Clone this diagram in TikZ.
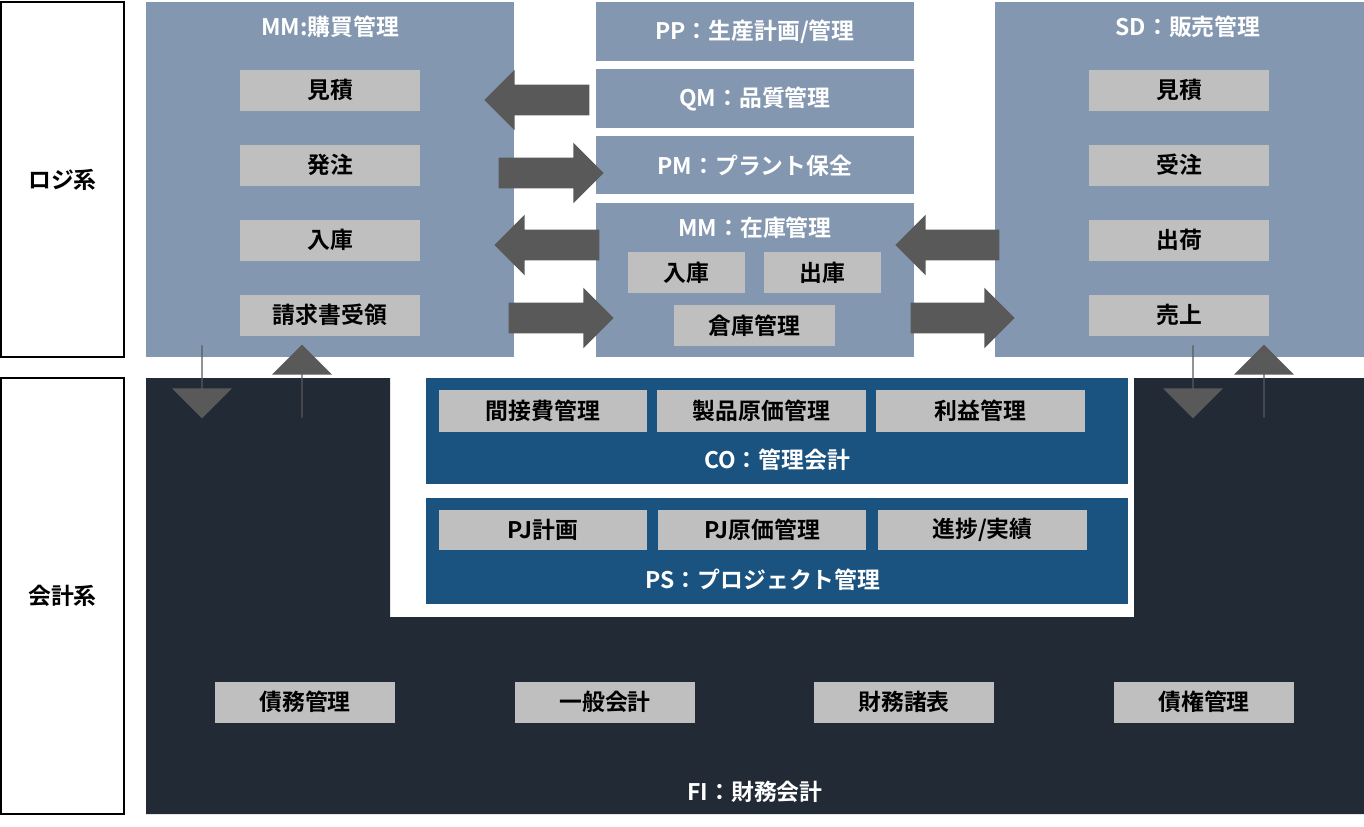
\documentclass[tikz,border=0pt]{standalone}
\usepackage{fontspec}
\setmainfont{Noto Sans CJK JP}[BoldFont={Noto Sans CJK JP Bold}]
\usetikzlibrary{shapes.arrows}
\definecolor{logi}{HTML}{8497B0}
\definecolor{fico}{HTML}{222A35}
\definecolor{sub}{HTML}{1B5380}
\definecolor{item}{HTML}{BFBFBF}
\definecolor{arrowgray}{HTML}{595959}

\tikzset{
  panel/.style={fill=logi, draw=none},
  itembox/.style={fill=item, draw=none, font=\bfseries\fontsize{13}{15}\selectfont},
  title/.style={text=white, font=\bfseries\fontsize{13}{15}\selectfont},
  blk/.style={single arrow, fill=arrowgray, draw=none, inner sep=0pt,
    minimum width=1.2cm, single arrow head extend=0.3cm, text height=0.6cm,
    text depth=0pt, text width=0pt, single arrow tip angle=90, anchor=center}
}

\begin{document}
\begin{tikzpicture}[x=0.02cm, y=-0.02cm]
  \useasboundingbox (0,0) rectangle (1364,826);

  % side labels
  \node[draw, thick, minimum width=2.46cm, minimum height=7.1cm, font=\bfseries\fontsize{13}{15}\selectfont] (logilbl) at (62.5,179.5) {ロジ系};
  \node[draw, thick, minimum width=2.46cm, minimum height=8.72cm, font=\bfseries\fontsize{13}{15}\selectfont] (ficolbl) at (62.5,596) {会計系};

  % FI background
  \fill[fico] (146,378) -- (390,378) -- (390,617) -- (1134,617) -- (1134,378)
    -- (1364,378) -- (1364,814) -- (146,814) -- cycle;
  \node[title] (fi) at (755,792) {FI：財務会計};

  % MM purchasing
  \fill[panel] (146,2) rectangle (514,357);
  \node[title] (mmp) at (330,27) {MM:購買管理};
  \node[itembox, minimum width=3.6cm, minimum height=0.82cm] (mq) at (330,90) {見積};
  \node[itembox, minimum width=3.6cm, minimum height=0.82cm] (mo) at (330,165) {発注};
  \node[itembox, minimum width=3.6cm, minimum height=0.82cm] (mr) at (330,240) {入庫};
  \node[itembox, minimum width=3.6cm, minimum height=0.82cm] (mi) at (330,315) {請求書受領};

  % middle column
  \fill[panel] (596,2) rectangle (914,61);
  \node[title] (pp) at (755,32) {PP：生産計画/管理};
  \fill[panel] (596,69) rectangle (914,128);
  \node[title] (qm) at (755,99) {QM：品質管理};
  \fill[panel] (596,136) rectangle (914,194);
  \node[title] (pm) at (755,166) {PM：プラント保全};
  \fill[panel] (596,203) rectangle (914,357);
  \node[title] (mmi) at (755,228) {MM：在庫管理};
  \node[itembox, minimum width=2.34cm, minimum height=0.82cm] (ii) at (686.5,272.5) {入庫};
  \node[itembox, minimum width=2.34cm, minimum height=0.82cm] (io) at (822.5,272.5) {出庫};
  \node[itembox, minimum width=3.22cm, minimum height=0.82cm] (iw) at (754.5,325.5) {倉庫管理};

  % SD
  \fill[panel] (995,2) rectangle (1364,357);
  \node[title] (sd) at (1188,27) {SD：販売管理};
  \node[itembox, minimum width=3.6cm, minimum height=0.82cm] (sq) at (1179,90) {見積};
  \node[itembox, minimum width=3.6cm, minimum height=0.82cm] (so) at (1179,165) {受注};
  \node[itembox, minimum width=3.6cm, minimum height=0.82cm] (ss) at (1179,240) {出荷};
  \node[itembox, minimum width=3.6cm, minimum height=0.82cm] (sr) at (1179,315) {売上};

  % CO
  \fill[sub] (426,378) rectangle (1128,484);
  \node[title] (co) at (777,460) {CO：管理会計};
  \node[itembox, minimum width=4.16cm, minimum height=0.84cm] (c1) at (543,411) {間接費管理};
  \node[itembox, minimum width=4.18cm, minimum height=0.84cm] (c2) at (761.5,411) {製品原価管理};
  \node[itembox, minimum width=4.18cm, minimum height=0.84cm] (c3) at (980.5,411) {利益管理};

  % PS
  \fill[sub] (426,498) rectangle (1128,604);
  \node[title] (ps) at (763,580) {PS：プロジェクト管理};
  \node[itembox, minimum width=4.16cm, minimum height=0.8cm] (p1) at (543,530) {PJ計画};
  \node[itembox, minimum width=4.16cm, minimum height=0.8cm] (p2) at (762,530) {PJ原価管理};
  \node[itembox, minimum width=4.18cm, minimum height=0.8cm] (p3) at (982.5,530) {進捗/実績};

  % FI items
  \node[itembox, minimum width=3.6cm, minimum height=0.82cm] (f1) at (305,702) {債務管理};
  \node[itembox, minimum width=3.6cm, minimum height=0.82cm] (f2) at (605,702) {一般会計};
  \node[itembox, minimum width=3.6cm, minimum height=0.82cm] (f3) at (904,702) {財務諸表};
  \node[itembox, minimum width=3.6cm, minimum height=0.82cm] (f4) at (1204,702) {債権管理};

  % block arrows
  \node[blk, minimum height=2.1cm, shape border rotate=180] (a1) at (544.5,100) {};
  \node[blk, minimum height=2.1cm] (a2) at (543.5,173) {};
  \node[blk, minimum height=2.1cm, shape border rotate=180] (a3) at (554.5,245) {};
  \node[blk, minimum height=2.1cm] (a4) at (553.5,318) {};
  \node[blk, minimum height=2.08cm, shape border rotate=180] (a5) at (955,245) {};
  \node[blk, minimum height=2.08cm] (a6) at (955,318) {};
  \node[blk, minimum height=1.46cm, shape border rotate=270] (a7) at (202,381.5) {};
  \node[blk, minimum height=1.46cm, shape border rotate=90] (a8) at (302,381.5) {};
  \node[blk, minimum height=1.46cm, shape border rotate=270] (a9) at (1193,381.5) {};
  \node[blk, minimum height=1.46cm, shape border rotate=90] (a10) at (1264,381.5) {};
\end{tikzpicture}
\end{document}
